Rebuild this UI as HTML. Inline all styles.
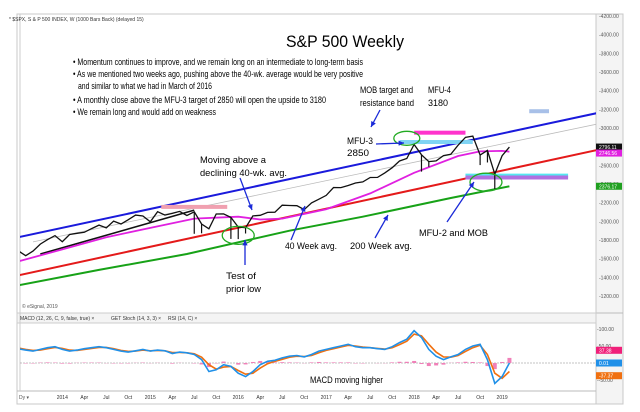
<!DOCTYPE html>
<html><head><meta charset="utf-8"><style>
html,body{margin:0;padding:0;background:#fff;}
svg{display:block;font-family:"Liberation Sans",Arial,sans-serif;}
</style></head><body>
<svg id="c" width="640" height="412" viewBox="0 0 640 412">
<defs><clipPath id="plotclip"><rect x="20" y="14" width="576" height="377"/></clipPath></defs>
<rect x="0" y="0" width="640" height="412" fill="#fff"/>
<rect x="17" y="14" width="606" height="390" fill="#fff" stroke="#c8c8c8"/>
<rect x="596" y="14" width="27" height="390" fill="#f4f4f4" stroke="#c8c8c8"/>
<line x1="17" y1="313" x2="623" y2="313" stroke="#bbb"/>
<rect x="17" y="313" width="579" height="10" fill="#f4f4f4" stroke="#ccc"/>
<line x1="17" y1="391" x2="596" y2="391" stroke="#bbb"/>
<line x1="20" y1="14" x2="20" y2="391" stroke="#ccc"/>
<g id="grid"></g>
<g id="marks" clip-path="url(#plotclip)"></g>
<g id="notes" fill="#000">
<text x="9" y="21" font-size="5" fill="#333">* $SPX, S &amp; P 500 INDEX, W (1000 Bars Back) (delayed 15)</text>
<text x="345" y="47" font-size="17" text-anchor="middle" textLength="118" lengthAdjust="spacingAndGlyphs">S&amp;P 500 Weekly</text>
<g font-size="9.5">
<text x="73" y="65" textLength="290" lengthAdjust="spacingAndGlyphs">• Momentum continues to improve, and we remain long on an intermediate to long-term basis</text>
<text x="73" y="77" textLength="290" lengthAdjust="spacingAndGlyphs">• As we mentioned two weeks ago, pushing above the 40-wk. average would be very positive</text>
<text x="78" y="89" textLength="134" lengthAdjust="spacingAndGlyphs">and similar to what we had in March of 2016</text>
<text x="73" y="103" textLength="253" lengthAdjust="spacingAndGlyphs">• A monthly close above the MFU-3 target of 2850 will open the upside to 3180</text>
<text x="73" y="115" textLength="143" lengthAdjust="spacingAndGlyphs">• We remain long and would add on weakness</text>
</g>
<g font-size="9.5">
<text x="360" y="93" textLength="53" lengthAdjust="spacingAndGlyphs">MOB target and</text>
<text x="360" y="106" textLength="54" lengthAdjust="spacingAndGlyphs">resistance band</text>
<text x="428" y="93" textLength="23" lengthAdjust="spacingAndGlyphs">MFU-4</text>
<text x="428" y="106" textLength="20" lengthAdjust="spacingAndGlyphs">3180</text>
<text x="347" y="144" textLength="26" lengthAdjust="spacingAndGlyphs">MFU-3</text>
<text x="347" y="156" textLength="22" lengthAdjust="spacingAndGlyphs">2850</text>
<text x="200" y="163" textLength="66" lengthAdjust="spacingAndGlyphs">Moving above a</text>
<text x="200" y="176" textLength="87" lengthAdjust="spacingAndGlyphs">declining 40-wk. avg.</text>
<text x="226" y="279" textLength="30" lengthAdjust="spacingAndGlyphs">Test of</text>
<text x="226" y="292" textLength="35" lengthAdjust="spacingAndGlyphs">prior low</text>
<text x="285" y="249" textLength="52" lengthAdjust="spacingAndGlyphs">40 Week avg.</text>
<text x="350" y="249" textLength="62" lengthAdjust="spacingAndGlyphs">200 Week avg.</text>
<text x="419" y="236" textLength="69" lengthAdjust="spacingAndGlyphs">MFU-2 and MOB</text>
<text x="310" y="383" textLength="73" lengthAdjust="spacingAndGlyphs">MACD moving higher</text>
</g>
<text x="22" y="308" font-size="5" fill="#555">© eSignal, 2019</text>
<g font-size="5" fill="#333">
<text x="20" y="320">MACD (12, 26, C, 9, false, true) ×</text>
<text x="111" y="320">GET Stoch (14, 3, 3) ×</text>
<text x="168" y="320">RSI (14, C) ×</text>
</g>
</g>
</svg>
<script>
const closes = [1606,1685,1632,1681,1756,1805,1848,
1782,1859,1872,1883,1923,1960,1930,2003,1972,2018,2067,2058,
1995,2104,2067,2085,2107,2063,2103,1972,1920,2079,2080,2043,
1940,1932,2059,2065,2096,2098,2173,2170,2168,2126,2198,2238,
2278,2363,2362,2384,2411,2423,2470,2471,2519,2575,2647,2673,
2823,2713,2640,2648,2705,2718,2816,2901,2913,2711,2760,2506,
2704,2796];
const lowIdx = [25,26,30,31,32,56,57,64,65,66];
const lowVals = [1867,1872,1812,1810,1870,2533,2585,2603,2631,2346];
const ma40Idx = [0,7,13,19,25,31,34,37,43,49,55,61,64,67,68];
const ma40Vals = [1550,1700,1830,1930,2030,2050,2020,2030,2130,2300,2520,2700,2750,2755,2746];
const ma200Idx = [0,12,24,38,48,60,68];
const ma200Vals = [1300,1480,1650,1900,2050,2250,2376];
const macd = [45,42,38,35,40,45,48,
40,35,38,42,45,48,45,40,35,32,36,40,
35,38,36,28,32,30,25,10,-25,-20,-5,-10,
-30,-40,-25,-5,5,8,15,20,22,18,25,35,
40,45,50,55,48,45,45,42,40,48,60,70,
95,75,40,20,10,18,25,40,50,55,10,-60,
-40,0];
const signal = [45,44,40,37,38,42,46,
43,38,37,40,43,46,46,42,37,34,35,38,
36,37,36,31,31,30,27,17,-5,-18,-12,-10,
-22,-33,-30,-15,-2,5,11,17,20,19,22,30,
37,42,47,52,50,47,45,43,41,45,54,64,
85,80,55,32,18,17,22,34,45,52,25,-30,
-45,-25];
const priceTicks = [4200,4000,3800,3600,3400,3200,3000,2800,2600,2400,2200,2000,1800,1600,1400,1200];
const macdTicks = [100,50,-50];
const dateLabels = ["2014","Apr","Jul","Oct","2015","Apr","Jul","Oct","2016","Apr","Jul","Oct","2017","Apr","Jul","Oct","2018","Apr","Jul","Oct","2019"];
const dateLabelIdx = [7,10,13,16,19,22,25,28,31,34,37,40,43,46,49,52,55,58,61,64,67];
const blueChannel = [[1.2,1833],[80,3161]];
const redChannel = [[1.2,1425],[80,2765]];
const grayLine = [[3,1780],[80,3043]];
const blackSupport = [[4,1650],[25,2120]];
const bands = [[53,63,2850,"#7fd4f4"],[55,62,2950,"#ff33cc"],[62,76,2490,"#55e8f0"],[62,76,2470,"#b070e0"],[20.5,29.5,2155,"#f0a0b0"],[70.7,73.4,3180,"#a8c0e8"]];

const X = i => 11 + i*7.33;
const Y = v => 16 + (4200 - v)/200*18.67;
const MY = v => 363 - v*0.34;
const NS = "http://www.w3.org/2000/svg";
const marks = document.getElementById('marks');
const grid = document.getElementById('grid');
const svg = document.getElementById('c');
function mk(tag, attrs, parent){const e=document.createElementNS(NS,tag);for(const k in attrs)e.setAttribute(k,attrs[k]);(parent||marks).appendChild(e);return e;}

priceTicks.forEach(t=>{
  const e=mk('text',{x:599,y:Y(t)+2,'font-size':5,fill:'#555'},grid);
  e.textContent='-'+t.toFixed(2);
  
  
});
macdTicks.forEach(t=>{
  const e=mk('text',{x:597,y:MY(t)+2,'font-size':5,fill:'#555'},grid);
  e.textContent='-'+t.toFixed(2);
  
  
});
dateLabels.forEach((d,k)=>{
  const e=mk('text',{x:X(dateLabelIdx[k]),y:399,'font-size':5,fill:'#333','text-anchor':'middle'},grid);
  e.textContent=d;
  
  
});
const dz=mk('text',{x:19,y:399,'font-size':5,fill:'#555'},grid);dz.textContent='Dy ▾';

function seg(p,col,w,name){const l=mk('line',{x1:X(p[0][0]),y1:Y(p[0][1]),x2:X(p[1][0]),y2:Y(p[1][1]),stroke:col,'stroke-width':w});
  
  }
seg(grayLine,'#bbb',0.8,'mid-channel-line');
seg(blueChannel,'#1a1adc',2,'upper-channel-line');
seg(redChannel,'#e41a1a',2,'lower-channel-line');
seg(blackSupport,'#111',1.6,'support-line');

bands.forEach(b=>{
  const r=mk('rect',{x:X(b[0]),y:Y(b[2])-2,width:X(b[1])-X(b[0]),height:4,fill:b[3]});
  
  
});

function pathOf(idx,vals,fy){return idx.map((i,k)=>(k?'L':'M')+X(i).toFixed(1)+' '+fy(vals[k]).toFixed(1)).join(' ');}
const ii = closes.map((_,i)=>i);
const g200=mk('path',{d:pathOf(ma200Idx,ma200Vals,Y),fill:'none',stroke:'#17a217','stroke-width':2});


const g40=mk('path',{d:pathOf(ma40Idx,ma40Vals,Y),fill:'none',stroke:'#e020e0','stroke-width':1.8});



lowIdx.forEach((i,k)=>{
  const l=mk('line',{x1:X(i),y1:Y(lowVals[k]),x2:X(i),y2:Y(closes[i]),stroke:'#111','stroke-width':1.2});
  
  
});
const pl=mk('path',{d:pathOf(ii,closes,Y),fill:'none',stroke:'#111','stroke-width':1.3});



[[54,2890,13,7],[64.8,2420,16,9],[31,1850,16,9]].forEach(e=>{
  const c=mk('ellipse',{cx:X(e[0]),cy:Y(e[1]),rx:e[2],ry:e[3],fill:'none',stroke:'#22aa22','stroke-width':1.3});
  
  
});

const arrows=[[240,178,252,210],[245,265,245,240],[380,110,371,127],[376,144,404,143],[291,240,305,206],[375,238,388,215],[447,222,474,182]];
arrows.forEach(a=>{
  const l=mk('line',{x1:a[0],y1:a[1],x2:a[2],y2:a[3],stroke:'#1a2ad8','stroke-width':1.3},svg);
  
  
  const ang=Math.atan2(a[3]-a[1],a[2]-a[0]);
  const p=[[a[2],a[3]],[a[2]-6*Math.cos(ang-0.45),a[3]-6*Math.sin(ang-0.45)],[a[2]-6*Math.cos(ang+0.45),a[3]-6*Math.sin(ang+0.45)]];
  mk('polygon',{points:p.map(q=>q.join(',')).join(' '),fill:'#1a2ad8'},svg);
});

mk('line',{x1:20,y1:MY(0),x2:596,y2:MY(0),stroke:'#888','stroke-width':0.6,'stroke-dasharray':'2,1'});
macd.forEach((m,i)=>{
  const h=m-signal[i];
  const r=mk('rect',{x:X(i)-2,y:Math.min(MY(0),MY(h*0.6)),width:4,height:Math.abs(MY(h*0.6)-MY(0)),fill:'#f080b8'});
  
  
});
const ms=mk('path',{d:pathOf(ii,signal,MY),fill:'none',stroke:'#f07010','stroke-width':1.6});


const ml=mk('path',{d:pathOf(ii,macd,MY),fill:'none',stroke:'#2090e8','stroke-width':1.6});



function badge(y,col,txt,name){
  const r=mk('rect',{x:596,y:y-3.5,width:26,height:7,fill:col},svg);
  
  
  const t=mk('text',{x:599,y:y+2,'font-size':5,fill:'#fff'},svg);t.textContent=txt;
}
badge(Y(closes[closes.length-1]),'#111','2796.11','price-badge');
badge(Y(closes[closes.length-1])+6,'#e020e0','2746.56','ma40-badge');
badge(Y(ma200Vals[ma200Vals.length-1]),'#20a020','2376.17','ma200-badge');
badge(MY(37.38),'#f0207a','37.38','histogram-badge');
badge(MY(macd[macd.length-1]),'#2090e8','0.01','macd-badge');
badge(MY(-37.37),'#f07010','-37.37','signal-badge');
</script>
</body></html>
